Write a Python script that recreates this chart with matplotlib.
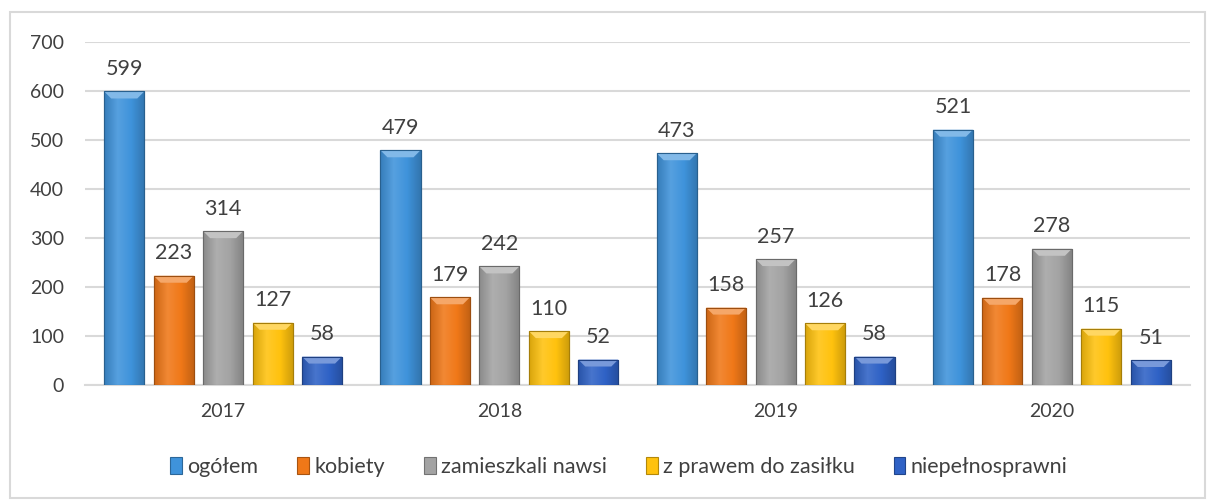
import numpy as np
import matplotlib.pyplot as plt
from matplotlib.colors import LinearSegmentedColormap, to_rgb
from matplotlib.patches import Rectangle, Polygon

years = ["2017", "2018", "2019", "2020"]
series = ["ogółem", "kobiety", "zamieszkali nawsi", "z prawem do zasiłku", "niepełnosprawni"]
ogolem = [599, 479, 473, 521]
kobiety = [223, 179, 158, 178]
nawsi = [314, 242, 257, 278]
zasilek = [127, 110, 126, 115]
niepelno = [58, 52, 58, 51]
values = [ogolem, kobiety, nawsi, zasilek, niepelno]
colors = ["#3f93db", "#f07818", "#a3a3a3", "#ffc20e", "#2f62c6"]

plt.rcParams["font.family"] = ["Lato", "DejaVu Sans"]
text_col = "#404040"


def shade(c, f):
    r, g, b = to_rgb(c)
    if f > 1:
        return tuple(x + (1 - x) * (f - 1) for x in (r, g, b))
    return (r * f, g * f, b * f)


fig = plt.figure(figsize=(12.08, 5.0), dpi=100)
fig.patches.append(Rectangle((10 / 1208, 2 / 500), 1195 / 1208, 486 / 500,
                             transform=fig.transFigure, fill=False,
                             edgecolor="#d9d9d9", linewidth=1.5))
ax = fig.add_axes([85 / 1208, 1 - 385 / 500, 1105 / 1208, 343 / 500])

x = np.arange(len(years))
step = 0.179
width = 0.145
ax.set_xlim(-0.5, len(years) - 0.5)
ax.set_ylim(0, 700)

# pixels -> data for bevel size
px_per_unit = (ax.transData.transform((0, 100))[1] - ax.transData.transform((0, 0))[1]) / 100.0
bevel = 7 / px_per_unit
bevel_x = 7 / (ax.transData.transform((1, 0))[0] - ax.transData.transform((0, 0))[0])

grad = np.linspace(0, 1, 64).reshape(1, -1)
for i, (vals, col) in enumerate(zip(values, colors)):
    pos = x + (i - 2) * step
    bars = ax.bar(pos, vals, width, color=col, edgecolor=shade(col, 0.7),
                  linewidth=0.8, label=series[i], zorder=3)
    cmap = LinearSegmentedColormap.from_list(
        "g", [shade(col, 0.85), shade(col, 1.12), col, shade(col, 0.8)])
    for b, v in zip(bars, vals):
        x0 = b.get_x()
        im = ax.imshow(grad, aspect="auto", cmap=cmap, zorder=3.5,
                       extent=(x0, x0 + width, 0, v))
        im.set_clip_path(b)
        top = Polygon([(x0, v), (x0 + width, v), (x0 + width - bevel_x, v - bevel),
                       (x0 + bevel_x, v - bevel)], closed=True,
                      facecolor=shade(col, 1.35), edgecolor="none", zorder=4)
        ax.add_patch(top)
        ax.add_patch(Rectangle((x0, 0), width, v, fill=False,
                               edgecolor=shade(col, 0.65), linewidth=0.8, zorder=4.5))
        ax.annotate(str(v), (x0 + width / 2, v), xytext=(0, 9), textcoords="offset points",
                    ha="center", va="bottom", fontsize=15.5, color=text_col)

ax.set_xticks(x)
ax.set_xticklabels(years)
ax.set_yticks(range(0, 701, 100))
ax.tick_params(axis="both", length=0, labelsize=14, labelcolor=text_col)
ax.tick_params(axis="y", pad=15)
ax.tick_params(axis="x", pad=13)
ax.yaxis.grid(True, color="#d9d9d9", linewidth=1.5)
ax.set_axisbelow(True)
for s in ["top", "right", "left"]:
    ax.spines[s].set_visible(False)
ax.spines["bottom"].set_color("#d9d9d9")
ax.spines["bottom"].set_linewidth(1.5)

leg = fig.legend(loc="center", bbox_to_anchor=(619 / 1208, 1 - 467 / 500), ncol=5,
                 frameon=False, fontsize=15.5, handlelength=0.55, handleheight=0.8,
                 handletextpad=0.25, columnspacing=1.8, labelcolor=text_col)

fig.savefig("out.png", dpi=100)
